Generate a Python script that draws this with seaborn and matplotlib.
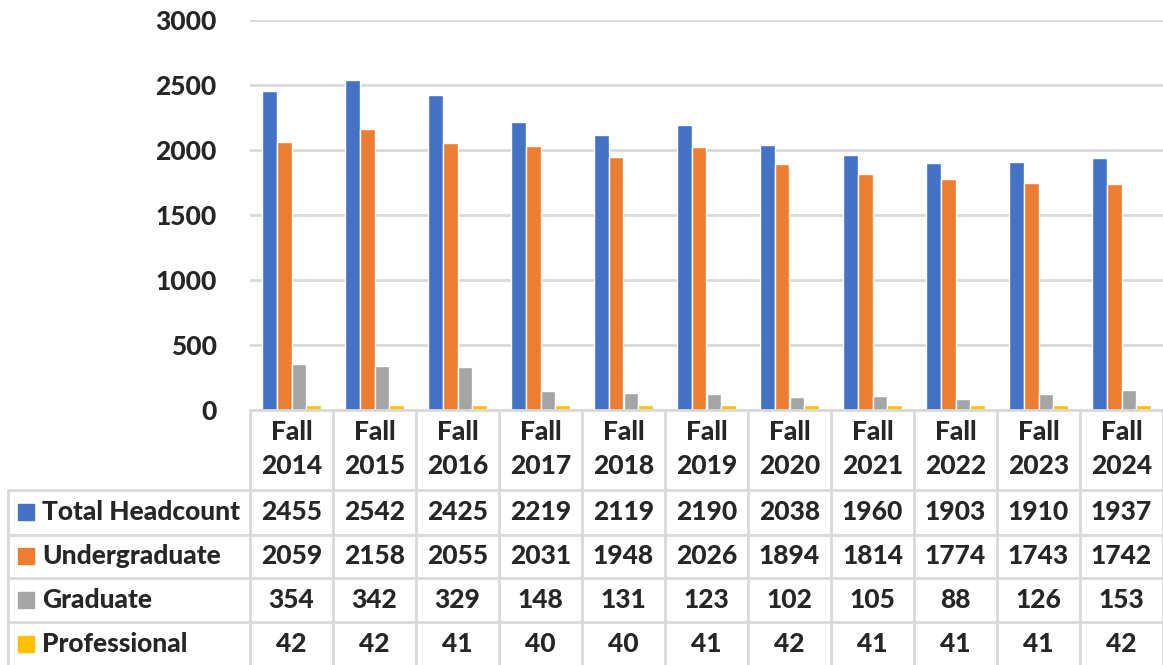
import matplotlib
matplotlib.use("Agg")
import matplotlib.pyplot as plt
import matplotlib.transforms as mtransforms
import pandas as pd
import seaborn as sns

# chart data
terms = ["Fall\n2014", "Fall\n2015", "Fall\n2016", "Fall\n2017", "Fall\n2018", "Fall\n2019",
         "Fall\n2020", "Fall\n2021", "Fall\n2022", "Fall\n2023", "Fall\n2024"]
series_names = ["Total Headcount", "Undergraduate", "Graduate", "Professional"]
total_headcount = [2455, 2542, 2425, 2219, 2119, 2190, 2038, 1960, 1903, 1910, 1937]
undergraduate = [2059, 2158, 2055, 2031, 1948, 2026, 1894, 1814, 1774, 1743, 1742]
graduate = [354, 342, 329, 148, 131, 123, 102, 105, 88, 126, 153]
professional = [42, 42, 41, 40, 40, 41, 42, 41, 41, 41, 42]
y_ticks = [0, 500, 1000, 1500, 2000, 2500, 3000]

colors = ["#4472C4", "#ED7D31", "#A5A5A5", "#FFC000"]
grid_color = "#D9D9D9"
WEIGHT = "black"
FS = 19

values = [total_headcount, undergraduate, graduate, professional]
rows = []
for name, vals in zip(series_names, values):
    for term, v in zip(terms, vals):
        rows.append({"term": term, "series": name, "count": v})
df = pd.DataFrame(rows)

sns.set_style("white")
plt.rcParams["font.family"] = ["Lato", "DejaVu Sans"]

W, H = 1163, 665
fig = plt.figure(figsize=(W / 100, H / 100), dpi=100)

# pixel-space overlay for the data table
tab = fig.add_axes([0, 0, 1, 1], zorder=0)
tab.set_xlim(0, W)
tab.set_ylim(H, 0)
tab.axis("off")

ax = fig.add_axes([250 / W, (H - 410) / H, 913 / W, 390 / H], zorder=1)
ax.patch.set_alpha(0)
sns.barplot(data=df, x="term", y="count", hue="series", palette=colors,
            width=0.72, gap=0, legend=False, ax=ax, saturation=1)
ax.set_ylim(0, 3000)
ax.set_xlim(-0.5, len(terms) - 0.5)
ax.set_yticks(y_ticks)
ax.set_yticklabels([str(t) for t in y_ticks], fontsize=FS, fontweight=WEIGHT)
ax.tick_params(axis="y", length=0, pad=24)
ax.set_xticks([])
ax.set_xlabel("")
ax.set_ylabel("")
ax.grid(axis="y", color=grid_color, linewidth=2)
ax.set_axisbelow(True)
for side in ["top", "right", "left"]:
    ax.spines[side].set_visible(False)
ax.spines["bottom"].set_color(grid_color)
ax.spines["bottom"].set_linewidth(2)

# blended: x in category units, y in pixels
trans = mtransforms.blended_transform_factory(ax.transData, tab.transData)

row_edges = [490, 535, 578, 622]
row_centers = [512, 556, 600, 644]
n = len(terms)

for i in range(n + 1):
    tab.plot([i - 0.5, i - 0.5], [411, H], color=grid_color, lw=2,
             transform=trans, clip_on=False)
tab.plot([8, 8], [490, H], color=grid_color, lw=2)
for y in row_edges:
    tab.plot([8, W], [y, y], color=grid_color, lw=2)

for i, term in enumerate(terms):
    tab.text(i, 449, term, transform=trans, ha="center", va="center",
             fontsize=FS, fontweight=WEIGHT, linespacing=1.45)

for r, (name, vals, c) in enumerate(zip(series_names, values, colors)):
    yc = row_centers[r]
    tab.add_patch(plt.Rectangle((18, yc - 8), 16, 16, color=c))
    tab.text(42, yc, name, ha="left", va="center", fontsize=FS, fontweight=WEIGHT)
    for i, v in enumerate(vals):
        tab.text(i, yc, str(v), transform=trans, ha="center", va="center",
                 fontsize=FS, fontweight=WEIGHT)

fig.savefig("out.png", dpi=100)
